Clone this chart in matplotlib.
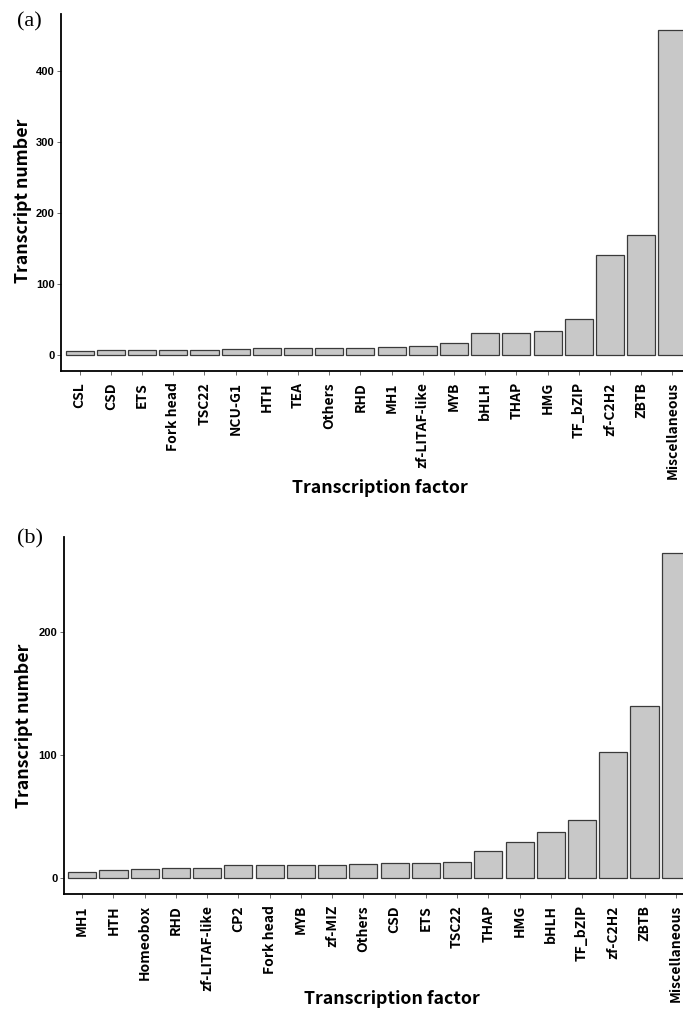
import matplotlib
matplotlib.use("Agg")
import matplotlib.pyplot as plt

# Panel (a) data
tf_a = ["CSL", "CSD", "ETS", "Fork head", "TSC22", "NCU-G1", "HTH", "TEA",
        "Others", "RHD", "MH1", "zf-LITAF-like", "MYB", "bHLH", "THAP", "HMG",
        "TF_bZIP", "zf-C2H2", "ZBTB", "Miscellaneous"]
count_a = [6, 7, 7, 7, 7, 8, 9, 9, 10, 10, 11, 12, 17, 31, 31, 34, 50, 140, 169, 457]
yticks_a = [0, 100, 200, 300, 400]

# Panel (b) data
tf_b = ["MH1", "HTH", "Homeobox", "RHD", "zf-LITAF-like", "CP2", "Fork head",
        "MYB", "zf-MIZ", "Others", "CSD", "ETS", "TSC22", "THAP", "HMG", "bHLH",
        "TF_bZIP", "zf-C2H2", "ZBTB", "Miscellaneous"]
count_b = [5, 6, 7, 8, 8, 10, 10, 10, 10, 11, 12, 12, 13, 22, 29, 37, 47, 102, 140, 264]
yticks_b = [0, 100, 200]

W, H = 683, 1010
fig = plt.figure(figsize=(W / 100, H / 100), dpi=100)

LABEL_FONT = ["Noto Sans CJK KR", "DejaVu Sans"]


def draw_panel(rect, names, counts, yticks, tag, tag_xy, xlab_pos, ylab_pos):
    ax = fig.add_axes(rect)
    x = list(range(len(names)))
    ax.bar(x, counts, width=0.9, color="#c8c8c8", edgecolor="#3a3a3a", linewidth=0.9)
    top = max(counts)
    ax.set_xlim(-0.6, len(names) - 0.4)
    ax.set_ylim(-0.05 * top, 1.05 * top)
    ax.set_xticks(x)
    ax.set_xticklabels(names, rotation=90, family=LABEL_FONT, fontweight="bold",
                       fontsize=10)
    ax.set_yticks(yticks)
    ax.set_yticklabels([str(v) for v in yticks], family="Liberation Sans",
                       fontweight="bold", fontsize=8)
    for s in ["top", "right"]:
        ax.spines[s].set_visible(False)
    for s in ["left", "bottom"]:
        ax.spines[s].set_linewidth(1.3)
        ax.spines[s].set_color("black")
    ax.tick_params(axis="x", length=3, width=0.6, color="#555555", pad=5)
    ax.tick_params(axis="y", length=3, width=0.6, color="#555555", pad=1.5)
    ax.set_xlabel("Transcription factor", family=LABEL_FONT, fontweight="bold",
                  fontsize=12.8, va="center")
    ax.xaxis.set_label_coords(*xlab_pos)
    ax.set_ylabel("Transcript number", family=LABEL_FONT, fontweight="bold",
                  fontsize=12.8, va="center")
    ax.yaxis.set_label_coords(*ylab_pos)
    fig.text(tag_xy[0] / W, 1 - tag_xy[1] / H, tag, family="Liberation Serif",
             fontsize=16, ha="center", va="center")
    return ax


draw_panel([61 / W, 1 - 371 / H, 630 / W, 357 / H], tf_a, count_a, yticks_a,
           "(a)", (29, 22), (0.506, -0.328), (-0.06, 0.476))
draw_panel([63.5 / W, 1 - 894 / H, 631 / W, 357 / H], tf_b, count_b, yticks_b,
           "(b)", (30, 539), (0.52, -0.294), (-0.063, 0.47))

fig.savefig("out.png", dpi=100)
